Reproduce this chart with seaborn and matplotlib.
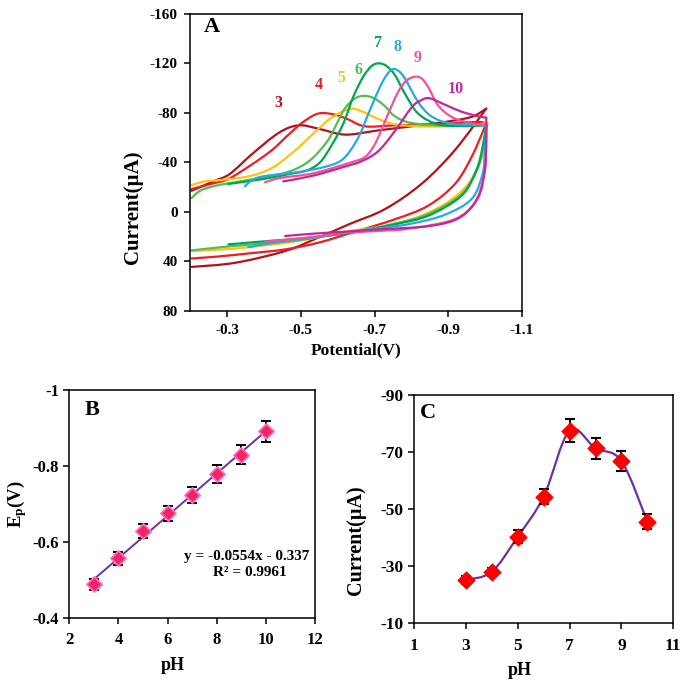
import numpy as np
import pandas as pd
import seaborn as sns
from matplotlib import pyplot as plt
from matplotlib.path import Path
from matplotlib.patches import PathPatch

sns.set_theme(style="ticks")
plt.rcParams["font.family"] = ["Liberation Serif", "DejaVu Serif"]
plt.rcParams["font.weight"] = "bold"
plt.rcParams["axes.labelweight"] = "bold"
plt.rcParams["axes.unicode_minus"] = False
plt.rcParams["mathtext.fontset"] = "custom"
plt.rcParams["mathtext.rm"] = "Liberation Serif:bold"
plt.rcParams["mathtext.it"] = "Liberation Serif:bold"
plt.rcParams["mathtext.bf"] = "Liberation Serif:bold"
plt.rcParams["axes.edgecolor"] = "black"
plt.rcParams["axes.linewidth"] = 1.1
plt.rcParams["xtick.color"] = "black"
plt.rcParams["ytick.color"] = "black"
plt.rcParams["text.color"] = "black"
plt.rcParams["axes.labelcolor"] = "black"

# ---------------- panel A: cyclic voltammograms (upper = forward scan, lower = return)
E3u = [-0.203, -0.262, -0.307, -0.366, -0.439, -0.493, -0.547, -0.601, -0.637, -0.710, -0.800, -0.890, -0.963, -1.003]
I3u = [-17.0, -24.6, -30.6, -46.3, -63.6, -69.8, -67.1, -63.0, -62.5, -65.7, -69.0, -72.5, -76.6, -83.3]
E3l = [-1.003, -0.917, -0.827, -0.728, -0.633, -0.547, -0.457, -0.321, -0.203]
I3l = [-83.3, -49.5, -22.5, -2.2, 9.7, 20.8, 31.6, 41.1, 44.4]

E4u = [-0.203, -0.262, -0.303, -0.362, -0.420, -0.466, -0.506, -0.547, -0.588, -0.624, -0.674, -0.755, -0.890, -0.981, -1.003]
I4u = [-18.4, -23.0, -26.5, -37.3, -49.5, -62.2, -72.5, -79.3, -78.7, -75.2, -69.0, -69.8, -71.1, -72.5, -71.1]
E4l = [-1.003, -0.963, -0.918, -0.845, -0.755, -0.647, -0.547, -0.457, -0.366, -0.276, -0.203]
I4l = [-71.1, -44.1, -22.5, -4.9, 6.0, 16.0, 24.9, 30.3, 33.3, 36.0, 37.6]

E5u = [-0.203, -0.240, -0.294, -0.366, -0.425, -0.484, -0.533, -0.583, -0.633, -0.664, -0.710, -0.755, -0.823, -0.895, -0.967, -1.006]
I5u = [-21.6, -24.6, -26.0, -29.2, -36.0, -49.5, -63.0, -76.0, -83.0, -81.2, -74.9, -70.6, -69.0, -69.0, -70.1, -71.7]
E5l = [-1.006, -0.999, -0.990, -0.954, -0.890, -0.800, -0.710, -0.619, -0.502, -0.411, -0.303, -0.203]
I5l = [-71.7, -60.3, -44.1, -22.5, -6.2, 6.0, 12.2, 16.0, 23.0, 26.8, 30.0, 31.6]

E6u = [-0.203, -0.226, -0.262, -0.303, -0.398, -0.470, -0.524, -0.570, -0.595, -0.619, -0.646, -0.673, -0.700, -0.728, -0.755, -0.800, -0.895, -1.003]
I6u = [-11.1, -17.0, -20.6, -23.0, -27.9, -32.7, -41.4, -56.3, -69.8, -83.3, -91.4, -93.6, -91.4, -85.2, -77.1, -71.7, -69.5, -70.3]
E6l = [-1.003, -0.996, -0.981, -0.936, -0.845, -0.755, -0.637, -0.502, -0.411, -0.303, -0.203]
I6l = [-70.3, -54.9, -36.0, -14.3, 1.9, 9.5, 16.2, 22.5, 25.2, 27.9, 31.1]

E7u = [-0.303, -0.398, -0.470, -0.515, -0.552, -0.583, -0.615, -0.642, -0.669, -0.692, -0.712, -0.732, -0.755, -0.782, -0.818, -0.872, -0.940, -1.003]
I7u = [-22.5, -26.5, -30.6, -33.3, -40.0, -53.6, -71.1, -92.8, -109.0, -117.7, -119.8, -117.7, -110.4, -95.5, -79.3, -70.6, -69.2, -69.8]
E7l = [-1.003, -0.993, -0.976, -0.936, -0.845, -0.755, -0.637, -0.502, -0.411, -0.303]
I7l = [-69.8, -52.2, -33.3, -13.0, 3.2, 10.0, 16.8, 21.4, 23.5, 26.2]

E8u = [-0.348, -0.366, -0.398, -0.488, -0.561, -0.606, -0.633, -0.660, -0.687, -0.714, -0.732, -0.748, -0.764, -0.782, -0.818, -0.854, -0.909, -1.003]
I8u = [-20.6, -25.2, -28.7, -31.9, -36.0, -40.8, -49.0, -62.5, -82.0, -100.4, -110.1, -115.0, -113.9, -107.7, -88.7, -77.1, -71.1, -69.8]
E8l = [-1.003, -0.999, -0.993, -0.963, -0.890, -0.800, -0.710, -0.619, -0.533, -0.443, -0.357]
I8l = [-69.8, -49.5, -30.6, -10.3, 2.4, 9.5, 13.3, 16.8, 20.8, 24.1, 28.4]

E9u = [-0.402, -0.443, -0.533, -0.637, -0.673, -0.696, -0.714, -0.737, -0.764, -0.786, -0.809, -0.827, -0.845, -0.872, -0.909, -0.954, -1.003]
I9u = [-23.8, -27.3, -31.1, -40.0, -44.1, -52.2, -63.0, -79.3, -96.8, -105.8, -109.0, -107.7, -100.9, -86.0, -76.6, -72.0, -69.8]
E9l = [-1.003, -1.002, -0.996, -0.972, -0.917, -0.800, -0.710, -0.619, -0.533, -0.402]
I9l = [-69.8, -46.8, -27.9, -7.6, 6.0, 13.3, 15.4, 17.0, 20.3, 24.1]

E10u = [-0.452, -0.533, -0.619, -0.664, -0.710, -0.755, -0.800, -0.823, -0.848, -0.890, -0.935, -0.981, -1.003]
I10u = [-24.6, -29.2, -36.5, -40.8, -49.0, -65.2, -84.1, -89.5, -91.7, -86.6, -80.9, -77.1, -76.0]
E10l = [-1.003, -1.003, -0.999, -0.981, -0.931, -0.850, -0.714, -0.619, -0.533, -0.457]
I10l = [-76.0, -54.9, -33.3, -11.6, 4.6, 11.4, 14.1, 16.0, 17.6, 19.5]

cv_labels = ["3", "4", "5", "6", "7", "8", "9", "10"]
cv_colors = ["#B3121D", "#EE1C25", "#FFC20E", "#52BE4E", "#00A651", "#25AAE1", "#F0529C", "#C4269B"]
label_E = [-0.438, -0.547, -0.610, -0.657, -0.708, -0.761, -0.818, -0.920]
label_I = [-87.6, -102.0, -107.6, -114.4, -136.5, -133.3, -123.9, -99.5]

# ---------------- panels B and C
ph = [3, 4, 5, 6, 7, 8, 9, 10]
ep = [-0.489, -0.558, -0.630, -0.676, -0.724, -0.780, -0.830, -0.891]
ep_err = [0.015, 0.017, 0.019, 0.020, 0.022, 0.024, 0.025, 0.027]
ip = [-25.0, -27.9, -40.2, -54.3, -77.5, -71.3, -66.8, -45.5]
ip_err = [1.4, 1.4, 2.2, 2.7, 4.0, 3.7, 3.5, 2.6]


def smooth_line(ax, x, y, **kw):
    # Excel-like smoothed line: cubic bezier through the points
    pts = np.column_stack([x, y]).astype(float)
    ext = np.vstack([pts[0], pts, pts[-1]])
    verts = [pts[0]]
    codes = [Path.MOVETO]
    for i in range(len(pts) - 1):
        p0, p1, p2, p3 = ext[i], ext[i + 1], ext[i + 2], ext[i + 3]
        verts += [p1 + (p2 - p0) / 6, p2 - (p3 - p1) / 6, p2]
        codes += [Path.CURVE4] * 3
    ax.add_patch(PathPatch(Path(verts, codes), fill=False, capstyle="round", **kw))


fig = plt.figure(figsize=(6.85, 6.86), dpi=100)
axA = fig.add_axes([0.278, 0.5466, 0.484, 0.4337])
axB = fig.add_axes([0.1012, 0.0987, 0.3587, 0.3328])
axC = fig.add_axes([0.6044, 0.0923, 0.3785, 0.3319])

for ax in (axA, axB, axC):
    ax.tick_params(direction="out", length=4, width=1.1, top=False, right=False)
    for s in ax.spines.values():
        s.set_linewidth(1.1)

# ---- A
branches = [(E3u, I3u, E3l, I3l), (E4u, I4u, E4l, I4l), (E5u, I5u, E5l, I5l), (E6u, I6u, E6l, I6l),
            (E7u, I7u, E7l, I7l), (E8u, I8u, E8l, I8l), (E9u, I9u, E9l, I9l), (E10u, I10u, E10l, I10l)]
for (eu, iu, el, il), col in zip(branches, cv_colors):
    smooth_line(axA, eu, iu, color=col, lw=1.6)
    smooth_line(axA, el, il, color=col, lw=1.6)
for lab, col, x, y in zip(cv_labels, cv_colors, label_E, label_I):
    axA.text(x, y, lab, color=col, fontsize=11.5, fontweight="bold", ha="center", va="center")

axA.set_xlim(-0.2, -1.1)
axA.set_ylim(80, -160)
axA.set_xticks([-0.3, -0.5, -0.7, -0.9, -1.1])
axA.set_xticklabels(["-0.3", "-0.5", "-0.7", "-0.9", "-1.1"])
axA.set_yticks([-160, -120, -80, -40, 0, 40, 80])
axA.tick_params(labelsize=11)
axA.tick_params(axis="x", pad=5.5)
axA.tick_params(axis="y", pad=5)
axA.set_xlabel("Potential(V)", fontsize=12.5)
axA.set_ylabel("Current(µA)", fontsize=15)
axA.xaxis.set_label_coords(0.5, -0.104)
axA.yaxis.set_label_coords(-0.143, 0.35)
axA.text(0.065, 0.956, "A", transform=axA.transAxes, fontsize=16, ha="center", va="center")

# ---- B
dfB = pd.DataFrame({"pH": ph, "Ep": ep, "err": ep_err})
sns.regplot(data=dfB, x="pH", y="Ep", ci=None, scatter=False, ax=axB,
            line_kws=dict(color="#7030A0", lw=1.4, zorder=1))
axB.errorbar(dfB["pH"], dfB["Ep"], yerr=dfB["err"], fmt="none", ecolor="black",
             elinewidth=1.4, capsize=3.5, capthick=1.4, zorder=2)
sns.scatterplot(data=dfB, x="pH", y="Ep", ax=axB, marker="D", s=60, color="#F0265E",
                edgecolor="#FF6EC7", linewidth=1.3, zorder=3)
axB.set_xlim(2, 12)
axB.set_ylim(-0.4, -1.0)
axB.set_xticks([2, 4, 6, 8, 10, 12])
axB.set_yticks([-1.0, -0.8, -0.6, -0.4])
axB.set_yticklabels(["-1", "-0.8", "-0.6", "-0.4"])
axB.tick_params(labelsize=12)
axB.tick_params(axis="x", pad=6)
axB.set_xlabel("pH", fontsize=13)
axB.set_ylabel(r"E$_\mathrm{p}$(V)", fontsize=13.5)
axB.xaxis.set_label_coords(0.42, -0.17)
axB.yaxis.set_label_coords(-0.165, 0.5)
axB.text(0.091, 0.912, "B", transform=axB.transAxes, fontsize=16, ha="center", va="center")
axB.text(0.722, 0.27, "y = -0.0554x - 0.337", transform=axB.transAxes, fontsize=11, ha="center", va="center")
axB.text(0.735, 0.20, "R² = 0.9961", transform=axB.transAxes, fontsize=11, ha="center", va="center")

# ---- C
dfC = pd.DataFrame({"pH": ph, "Ip": ip, "err": ip_err})
smooth_line(axC, dfC["pH"], dfC["Ip"], color="#7030A0", lw=1.6, zorder=1)
axC.errorbar(dfC["pH"], dfC["Ip"], yerr=dfC["err"], fmt="none", ecolor="black",
             elinewidth=1.5, capsize=3.5, capthick=1.5, zorder=2)
sns.scatterplot(data=dfC, x="pH", y="Ip", ax=axC, marker="D", s=80, color="#FF0000",
                edgecolor="#FF0000", linewidth=0.5, zorder=3)
axC.set_xlim(1, 11)
axC.set_ylim(-10, -90)
axC.set_xticks([1, 3, 5, 7, 9, 11])
axC.set_yticks([-90, -70, -50, -30, -10])
axC.tick_params(labelsize=12.5)
axC.tick_params(axis="x", pad=7)
axC.set_xlabel("pH", fontsize=13)
axC.set_ylabel("Current(µA)", fontsize=14.5)
axC.xaxis.set_label_coords(0.41, -0.173)
axC.yaxis.set_label_coords(-0.185, 0.363)
axC.text(0.054, 0.92, "C", transform=axC.transAxes, fontsize=16, ha="center", va="center")

fig.savefig("out.png", dpi=100)
